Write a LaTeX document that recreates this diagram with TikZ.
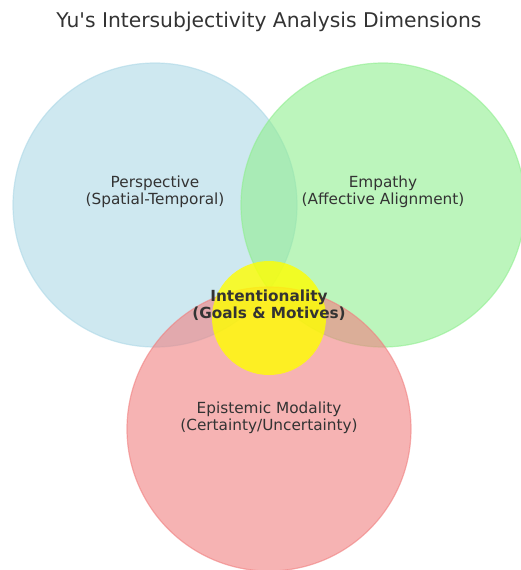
\documentclass[tikz,border=0pt]{standalone}
\usepackage{fontspec}
\setmainfont{DejaVu Sans}[Ligatures=TeXOff]
\definecolor{perspblue}{HTML}{ADD8E6}
\definecolor{empathygreen}{HTML}{90EE90}
\definecolor{epistred}{HTML}{F08080}
\definecolor{intentyellow}{HTML}{FFFF00}
\definecolor{textgray}{HTML}{333333}
\begin{document}
\begin{tikzpicture}[
	x=1pt,y=-1pt,
	dim/.style={circle,draw,line width=1.2pt,minimum size=284pt,inner sep=0pt,fill opacity=0.6,draw opacity=0.6},
	dimlabel/.style={align=center,text=textgray,font=\fontsize{15.3}{17.5}\selectfont}
	]
	\useasboundingbox (0,0) rectangle (521,570);
	% the three dimensions
	\node[dim,draw=perspblue,fill=perspblue] (persp) at (155,205) {};
	\node[dim,draw=empathygreen,fill=empathygreen] (empathy) at (383,205) {};
	\node[dim,draw=epistred,fill=epistred] (epist) at (269,429) {};
	% shared centre
	\node[circle,minimum size=114pt,inner sep=0pt,fill=intentyellow,fill opacity=0.8] (intent) at (269,318) {};
	% labels
	\node[dimlabel] (persplabel) at (155,192) {Perspective\\(Spatial-Temporal)};
	\node[dimlabel] (empathylabel) at (383,192) {Empathy\\(Affective Alignment)};
	\node[dimlabel] (epistlabel) at (269,418) {Epistemic Modality\\(Certainty/Uncertainty)};
	\node[dimlabel,font=\fontsize{15.3}{17.5}\selectfont\bfseries] (intentlabel) at (269,305) {Intentionality\\(Goals \& Motives)};
	\node[text=textgray,font=\fontsize{20.3}{24}\selectfont] (title) at (269,22) {Yu's Intersubjectivity Analysis Dimensions};
\end{tikzpicture}
\end{document}
